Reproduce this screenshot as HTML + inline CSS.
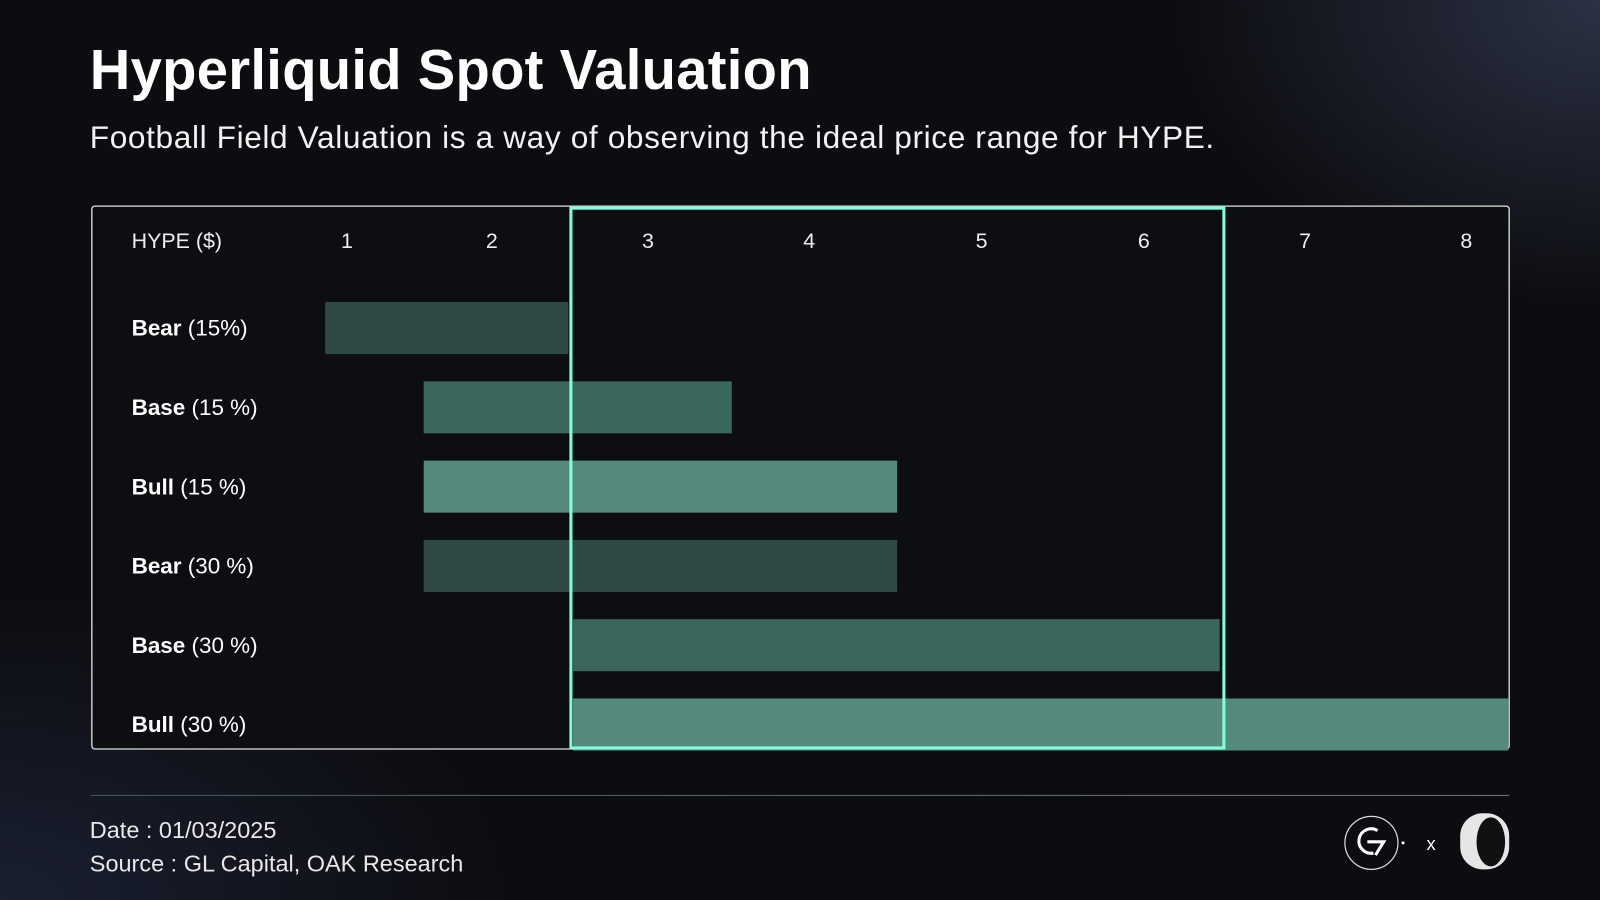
<!DOCTYPE html>
<html><head><meta charset="utf-8"><style>
html,body{margin:0;padding:0;width:1600px;height:900px;overflow:hidden;background:#0c0d11}
#wrap{position:absolute;left:0;top:0;width:1568px;height:882px;transform:scale(1.020408);transform-origin:0 0;
background:radial-gradient(ellipse 420px 300px at 1568px 0px,rgba(70,80,110,.55),rgba(0,0,0,0)),radial-gradient(ellipse 500px 300px at 0px 882px,rgba(40,50,80,.5),rgba(0,0,0,0)),#0c0d11;
font-family:"Liberation Sans",sans-serif;color:#fff}
.t{position:absolute;white-space:nowrap}
</style></head><body>
<div id="wrap">
<div class="t" style="left:88px;top:36px;font-size:55px;font-weight:bold;letter-spacing:0.3px">Hyperliquid Spot Valuation</div>
<div class="t" style="left:88px;top:117px;font-size:31px;letter-spacing:0.6px;color:#f2f2f2">Football Field Valuation is a way of observing the ideal price range for HYPE.</div>
<svg id="chart" width="1568" height="882" style="position:absolute;left:0;top:0"></svg>
<div style="position:absolute;left:89px;top:779px;width:1390px;height:1px;background:linear-gradient(90deg,#3a5a52,#777)"></div>
<div class="t" style="left:88px;top:800px;font-size:23px;color:#e8e8e8">Date : 01/03/2025</div>
<div class="t" style="left:88px;top:833px;font-size:23px;color:#e8e8e8">Source : GL Capital, OAK Research</div>
<svg width="180" height="70" style="position:absolute;left:1310px;top:792px">
<circle cx="34" cy="34" r="26" fill="none" stroke="#ddd" stroke-width="1.2"/>
<path d="M40 22 A12 12 0 1 0 36 44" fill="none" stroke="#fff" stroke-width="3"/>
<path d="M30 33 L46 33 L38 46" fill="none" stroke="#fff" stroke-width="3"/>
<circle cx="65" cy="34" r="1.5" fill="#fff"/>
<text x="88" y="41" font-size="18" fill="#fff" font-family="Liberation Sans">x</text>
<rect x="121" y="5" width="48" height="55" rx="22" fill="#e6e6e6"/>
<ellipse cx="151" cy="33" rx="14" ry="24" fill="#111"/>
</svg>
</div>
<script>
const ticks=[1,2,3,4,5,6,7,8];
const categories=["Bear","Base","Bull","Bear","Base","Bull"];
const pcts=["(15%)","(15 %)","(15 %)","(30 %)","(30 %)","(30 %)"];
const lows=[0.85,1.53,1.53,1.53,2.52,2.52];
const highs=[2.49,3.52,4.51,4.51,6.47,8.26];
const fills=["#2f4944","#3b665c","#548a7c","#2f4944","#3b665c","#548a7c"];
const highlightRange=[2.5,6.49];
const NS="http://www.w3.org/2000/svg";
const svg=document.getElementById('chart');
const knots=[340,482,635,793,962,1121,1279,1437];
function x(v){
  let i=Math.min(Math.max(Math.floor(v)-1,0),knots.length-2);
  return knots[i]+(v-(i+1))*(knots[i+1]-knots[i]);
}
function y(i){return 296+i*77.7;}
function mk(tag,a){const e=document.createElementNS(NS,tag);for(const k in a)e.setAttribute(k,a[k]);svg.appendChild(e);return e;}
const fr=mk('rect',{x:90,y:202,width:1389,height:532,rx:3,fill:"#0d0e12",stroke:"#e0e0e0","stroke-width":1.3});


const ax=mk('text',{x:129,y:243,"font-size":21,fill:"#eee","font-family":"Liberation Sans"});ax.textContent="HYPE ($)";


ticks.forEach(t=>{const e=mk('text',{x:x(t),y:243,"font-size":21,fill:"#eee","text-anchor":"middle","font-family":"Liberation Sans"});e.textContent=t;

});
categories.forEach((c,i)=>{
  const r=mk('rect',{x:x(lows[i]),y:y(i),width:x(highs[i])-x(lows[i]),height:51,fill:fills[i]});
  
  
  const t=mk('text',{x:129,y:y(i)+33,"font-size":22,fill:"#fff","font-family":"Liberation Sans"});
  t.innerHTML='<tspan font-weight="bold">'+c+'</tspan> '+pcts[i];
  
  
});
const hb=mk('rect',{x:x(highlightRange[0])+1,y:204,width:x(highlightRange[1])-x(highlightRange[0]),height:529,fill:"none",stroke:"#7fffe0","stroke-width":3});


</script>
</body></html>
